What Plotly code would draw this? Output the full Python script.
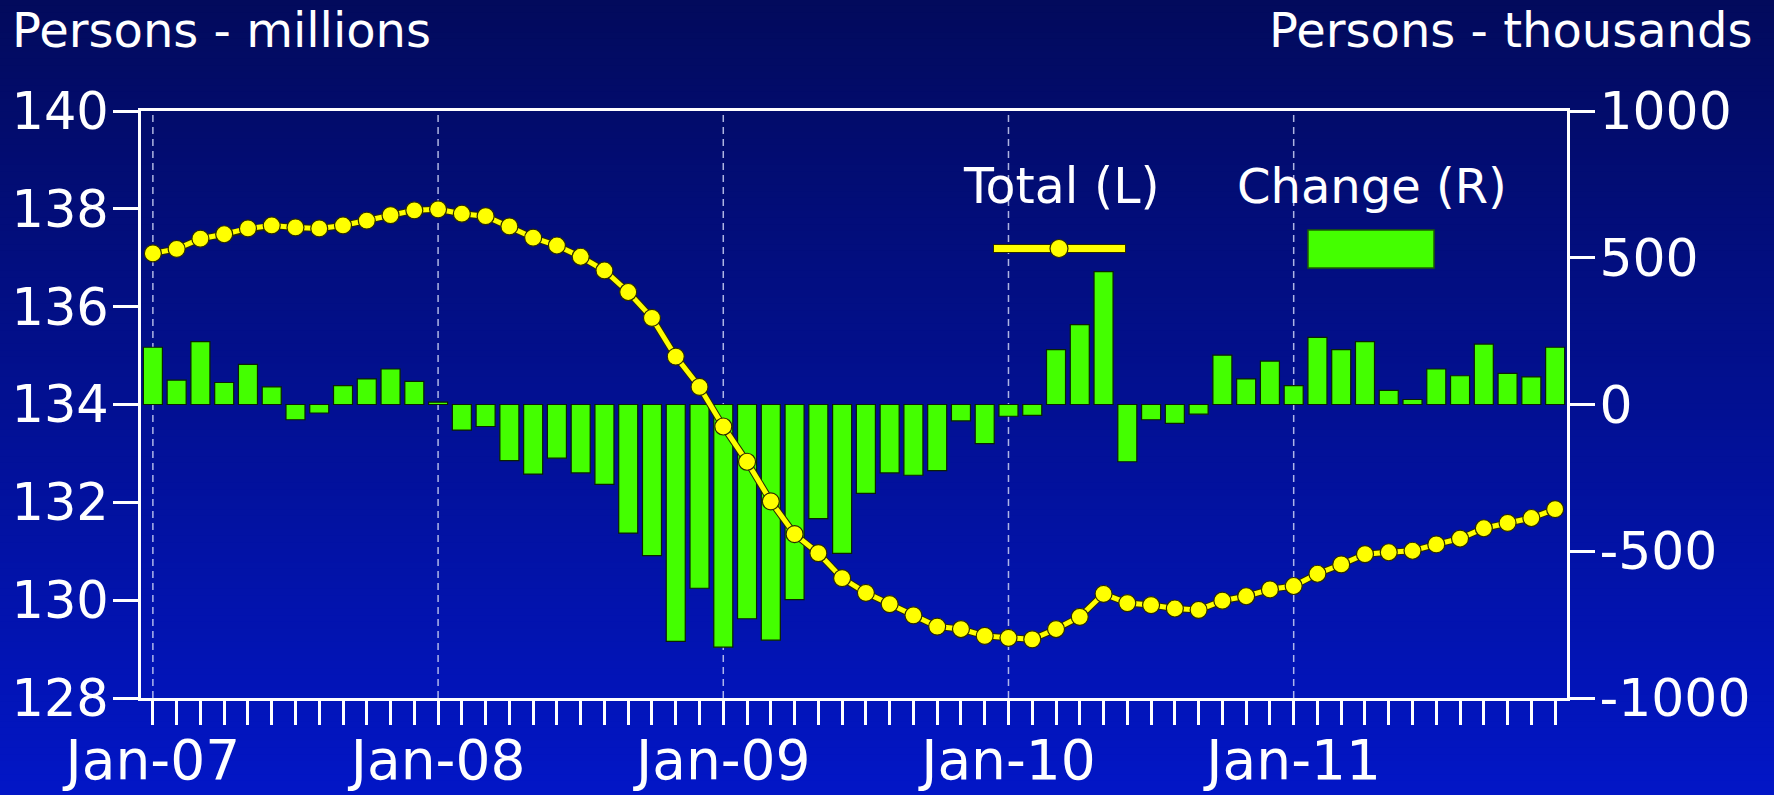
import plotly.graph_objects as go

# ---- data -------------------------------------------------------------
MONTH_NAMES = ["Jan", "Feb", "Mar", "Apr", "May", "Jun",
               "Jul", "Aug", "Sep", "Oct", "Nov", "Dec"]
YEARS = ["07", "08", "09", "10", "11"]
months = [f"{m}-{y}" for y in YEARS for m in MONTH_NAMES]

# Total employment, millions of persons (left axis)
total_millions = [
    137.09, 137.18, 137.39, 137.48, 137.60, 137.66, 137.62, 137.60, 137.66, 137.76, 137.87, 137.97,
    137.99, 137.90, 137.85, 137.64, 137.41, 137.25, 137.02, 136.74, 136.30, 135.77, 134.98, 134.36,
    133.55, 132.83, 132.02, 131.35, 130.96, 130.45, 130.15, 129.92, 129.69, 129.46, 129.41, 129.27,
    129.23, 129.20, 129.41, 129.66, 130.13, 129.94, 129.90, 129.83, 129.80, 129.99, 130.08, 130.22,
    130.29, 130.54, 130.73, 130.94, 130.98, 131.01, 131.14, 131.26, 131.47, 131.58, 131.68, 131.86,
]

# Monthly change, thousands of persons (right axis)
change_thousands = [
    195, 83, 214, 75, 137, 60, -52, -29, 64, 87, 121, 79,
    8, -87, -75, -191, -237, -183, -233, -272, -438, -515, -807, -626,
    -827, -730, -803, -665, -389, -507, -303, -233, -241, -225, -56, -133,
    -40, -37, 187, 272, 453, -195, -52, -64, -33, 168, 87, 148,
    64, 229, 187, 214, 48, 17, 121, 98, 206, 106, 94, 195,
]

left_ticks = [128, 130, 132, 134, 136, 138, 140]
right_ticks = [-1000, -500, 0, 500, 1000]
right_ticktext = [str(v) for v in right_ticks]
x_ticktext = [m if m.startswith("Jan") else "" for m in months]

# ---- layout geometry (pixels) ----------------------------------------
W, H = 1774, 795
ML, MR, MT, MB = 141, 207, 111, 97
PW, PH = W - ML - MR, H - MT - MB


def px_x(px):
    return (px - ML) / PW


def px_y(py):
    return (H - MB - py) / PH


FONT = "DejaVu Sans"
WHITE = "#FFFFFF"
GREEN = "#44FF00"
YELLOW = "#FFFF00"

fig = go.Figure()

fig.add_trace(go.Bar(
    x=months, y=change_thousands, yaxis="y",
    width=0.8,
    marker=dict(color=GREEN, line=dict(color="#0b2200", width=1.2)),
    name="Change (R)", showlegend=False,
))

# dark edge under the yellow line
fig.add_trace(go.Scatter(
    x=months, y=total_millions, yaxis="y2", mode="lines",
    line=dict(color="#2a2a00", width=7),
    hoverinfo="skip", showlegend=False,
))
fig.add_trace(go.Scatter(
    x=months, y=total_millions, yaxis="y2", mode="lines+markers",
    line=dict(color=YELLOW, width=5),
    marker=dict(size=17, color=YELLOW, line=dict(color="#2a2a00", width=1.2)),
    name="Total (L)", showlegend=False,
))

shapes = []

# vertical background gradient, dark navy at the top to bright blue below
N_BANDS = 120
top_rgb = (2, 10, 92)
bot_rgb = (2, 22, 198)
for i in range(N_BANDS):
    t = (i + 0.5) / N_BANDS
    r = round(top_rgb[0] + (bot_rgb[0] - top_rgb[0]) * t)
    g = round(top_rgb[1] + (bot_rgb[1] - top_rgb[1]) * t)
    b = round(top_rgb[2] + (bot_rgb[2] - top_rgb[2]) * t)
    y_top = H * i / N_BANDS - 1
    y_bot = H * (i + 1) / N_BANDS + 1
    shapes.append(dict(
        type="rect", xref="paper", yref="paper", layer="below",
        x0=px_x(-2), x1=px_x(W + 2), y0=px_y(y_bot), y1=px_y(y_top),
        fillcolor=f"rgb({r},{g},{b})", line=dict(width=0),
    ))

# dashed year gridlines
for m in months:
    if m.startswith("Jan"):
        shapes.append(dict(
            type="line", xref="x", yref="paper", layer="below",
            x0=m, x1=m, y0=0, y1=1,
            line=dict(color="rgba(205,210,245,0.85)", width=1.5, dash="7px,5px"),
        ))

# legend keys
shapes.append(dict(type="line", xref="paper", yref="paper",
                   x0=px_x(993), x1=px_x(1126), y0=px_y(248.5), y1=px_y(248.5),
                   line=dict(color="#2a2a00", width=9)))
shapes.append(dict(type="line", xref="paper", yref="paper",
                   x0=px_x(994), x1=px_x(1125), y0=px_y(248.5), y1=px_y(248.5),
                   line=dict(color=YELLOW, width=7)))
shapes.append(dict(type="circle", xref="paper", yref="paper",
                   x0=px_x(1059 - 9), x1=px_x(1059 + 9),
                   y0=px_y(248.5 + 9), y1=px_y(248.5 - 9),
                   fillcolor=YELLOW, line=dict(color="#2a2a00", width=1.2)))
shapes.append(dict(type="rect", xref="paper", yref="paper",
                   x0=px_x(1308), x1=px_x(1434), y0=px_y(268), y1=px_y(230),
                   fillcolor=GREEN, line=dict(color="#1d5c00", width=1.5)))

annotations = [
    dict(text="Persons - millions", xref="paper", yref="paper",
         x=px_x(10), y=px_y(30), xanchor="left", yanchor="middle",
         showarrow=False, font=dict(family=FONT, size=48, color=WHITE)),
    dict(text="Persons - thousands", xref="paper", yref="paper",
         x=px_x(1755), y=px_y(30), xanchor="right", yanchor="middle",
         showarrow=False, font=dict(family=FONT, size=48, color=WHITE)),
    dict(text="Total (L)", xref="paper", yref="paper",
         x=px_x(1061), y=px_y(186), xanchor="center", yanchor="middle",
         showarrow=False, font=dict(family=FONT, size=49, color=WHITE)),
    dict(text="Change (R)", xref="paper", yref="paper",
         x=px_x(1372), y=px_y(186), xanchor="center", yanchor="middle",
         showarrow=False, font=dict(family=FONT, size=48, color=WHITE)),
]

fig.update_layout(
    width=W, height=H,
    margin=dict(l=ML, r=MR, t=MT, b=MB, pad=0, autoexpand=False),
    paper_bgcolor="rgb(2,16,150)",
    plot_bgcolor="rgba(0,0,0,0)",
    showlegend=False,
    bargap=0.2,
    shapes=shapes,
    annotations=annotations,
    font=dict(family=FONT, color=WHITE),
    xaxis=dict(
        type="category", automargin=False,
        range=[-0.5, len(months) - 0.5],
        tickmode="array", tickvals=months, ticktext=x_ticktext,
        ticks="outside", ticklen=24, tickwidth=3, tickcolor=WHITE,
        showgrid=False, zeroline=False,
        showline=True, linecolor=WHITE, linewidth=3, mirror=True,
        tickangle=0,
        tickfont=dict(family=FONT, size=55, color=WHITE),
        ticklabelstandoff=-12,
    ),
    yaxis=dict(
        side="right", automargin=False,
        range=[-1000, 1000],
        tickmode="array", tickvals=right_ticks, ticktext=right_ticktext,
        ticks="outside", ticklen=25, tickwidth=3, tickcolor=WHITE,
        showgrid=False, zeroline=False,
        showline=True, linecolor=WHITE, linewidth=3,
        tickfont=dict(family=FONT, size=52, color=WHITE),
        ticklabelstandoff=-6,
    ),
    yaxis2=dict(
        side="left", overlaying="y", automargin=False,
        range=[128, 140],
        tickmode="array", tickvals=left_ticks,
        ticks="outside", ticklen=25, tickwidth=3, tickcolor=WHITE,
        showgrid=False, zeroline=False,
        showline=True, linecolor=WHITE, linewidth=3,
        tickfont=dict(family=FONT, size=51, color=WHITE),
        ticklabelstandoff=-6,
    ),
)

fig.write_html("out.html")
